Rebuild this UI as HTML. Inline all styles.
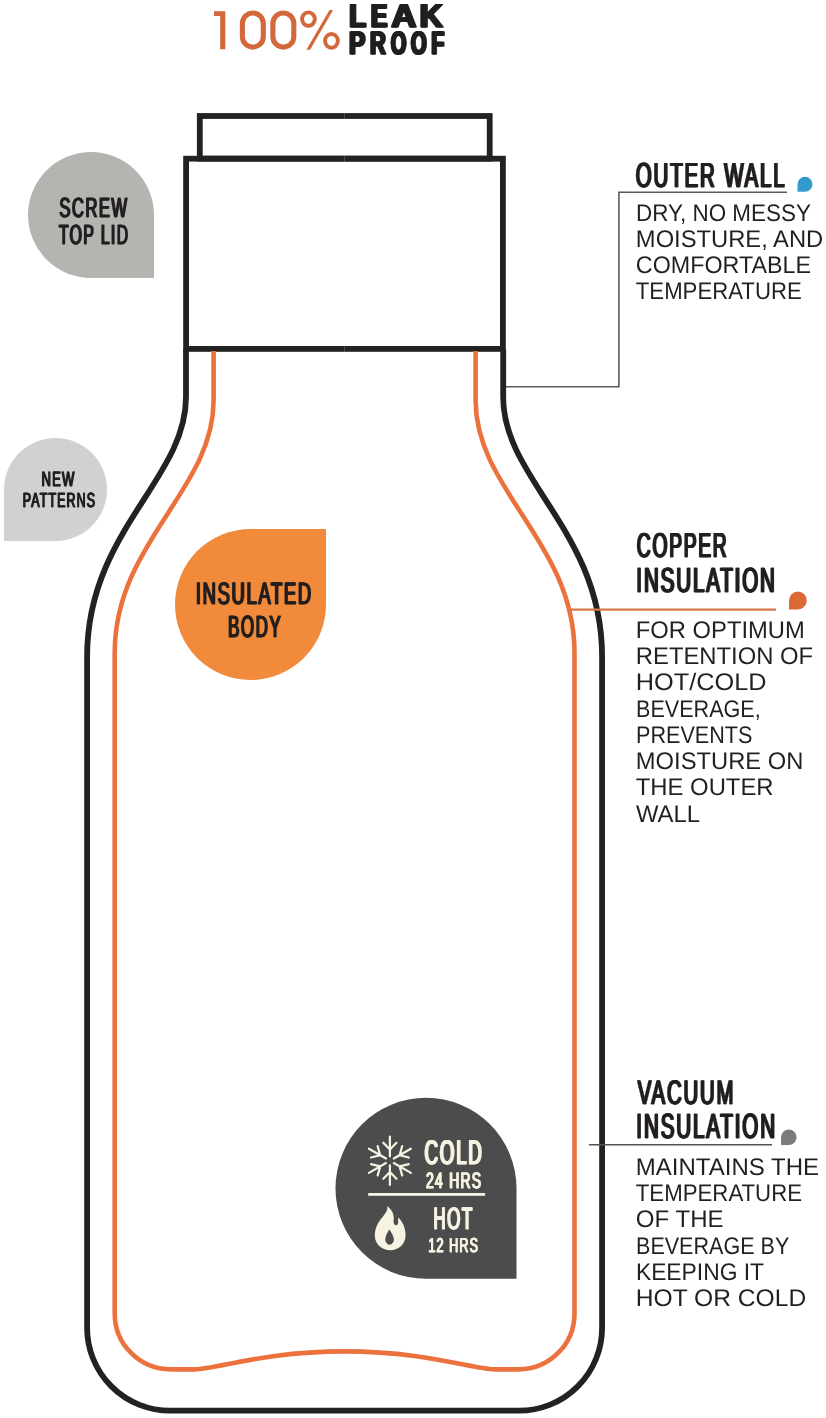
<!DOCTYPE html>
<html><head><meta charset="utf-8"><title>Insulated Bottle</title>
<style>
html,body{margin:0;padding:0;background:#fff;}
body{width:826px;height:1418px;overflow:hidden;font-family:"Liberation Sans",sans-serif;}
svg{display:block;font-family:"Liberation Sans",sans-serif;will-change:transform;text-rendering:geometricPrecision;}
</style></head>
<body>
<svg width="826" height="1418" viewBox="0 0 826 1418">
<path d="M28.00,215.00 A63.00,63.00 0 0 1 91.00,152.00 A63.00,63.00 0 0 1 154.00,215.00 L154.00,278.00 L91.00,278.00 A63.00,63.00 0 0 1 28.00,215.00 Z" fill="#b4b4b0"/>
<path d="M4.00,489.50 A51.50,51.50 0 0 1 55.50,438.00 A51.50,51.50 0 0 1 107.00,489.50 A51.50,51.50 0 0 1 55.50,541.00 L4.00,541.00 Z" fill="#d1d1d3"/>
<path d="M175.00,604.50 A75.50,75.50 0 0 1 250.50,529.00 L326.00,529.00 L326.00,604.50 A75.50,75.50 0 0 1 250.50,680.00 A75.50,75.50 0 0 1 175.00,604.50 Z" fill="#f18a3a"/>
<path d="M335.50,1188.30 A90.50,90.50 0 0 1 426.00,1097.80 A90.50,90.50 0 0 1 516.50,1188.30 L516.50,1278.80 L426.00,1278.80 A90.50,90.50 0 0 1 335.50,1188.30 Z" fill="#4c4c4c"/>
<path d="M797.50,184.30 A7.50,7.50 0 0 1 805.00,176.80 A7.50,7.50 0 0 1 812.50,184.30 A7.50,7.50 0 0 1 805.00,191.80 L797.50,191.80 Z" fill="#339acc"/>
<path d="M789.00,600.50 A8.90,8.90 0 0 1 797.90,591.60 A8.90,8.90 0 0 1 806.80,600.50 A8.90,8.90 0 0 1 797.90,609.40 L789.00,609.40 Z" fill="#da6936"/>
<path d="M781.00,1137.20 A7.80,7.80 0 0 1 788.80,1129.40 A7.80,7.80 0 0 1 796.60,1137.20 A7.80,7.80 0 0 1 788.80,1145.00 L781.00,1145.00 Z" fill="#7c7c7c"/>
<path d="M505.7,386.8 H618.9 V192.3 H787" fill="none" stroke="#5a5a5a" stroke-width="1.6"/>
<rect x="199.80" y="116.00" width="289.90" height="42.60" fill="none" stroke="#222222" stroke-width="5.8"/>
<rect x="186.10" y="158.70" width="316.80" height="190.20" fill="none" stroke="#222222" stroke-width="5.8"/>
<path d="M186.0,349 L186.0,397.3 C186.0,479.5 87.1,531.5 87.1,656.6 L87.1,1327.7 A83,83 0 0 0 170.1,1410.7 L519.1,1410.7 A83,83 0 0 0 602.1,1327.7 L602.1,656.6 C602.1,531.5 503.20000000000005,479.5 503.20000000000005,397.3 L503.20000000000005,349" fill="none" stroke="#222222" stroke-width="5.8"/>
<path d="M213.6,351 L213.6,400.6 C213.6,490.4 114.7,542.5 114.7,652.9 L114.7,1313.4 A56,56 0 0 0 170.7,1369.4 L195,1369.4 C216.2,1369.4 263.4,1351.4 344.6,1351.4 C425.8,1351.4 473.0,1369.4 494.2,1369.4 L518.5,1369.4 A56,56 0 0 0 574.5,1313.4 L574.5,652.9 C574.5,542.5 475.6,490.4 475.6,400.6 L475.6,351" fill="none" stroke="#eb713d" stroke-width="4.6"/>
<path d="M571,609.6 H776" fill="none" stroke="#d6764a" stroke-width="2.2"/>
<path d="M344.4,112 V120 M344.4,155 V162.5 M344.4,345 V352.5" stroke="#ffffff" stroke-opacity="0.3" stroke-width="0.7"/>
<path d="M589,1144.7 H772" fill="none" stroke="#555555" stroke-width="1.5"/>
<path d="M214,11.2 H225.3 V49.2 H220.2 V15.9 H214 Z" fill="#d3683a"/>
<rect x="242.4" y="13.0" width="20.9" height="34.1" rx="10.45" ry="10.45" fill="none" stroke="#d3683a" stroke-width="5.1"/>
<rect x="272.9" y="13.0" width="20.9" height="34.1" rx="10.45" ry="10.45" fill="none" stroke="#d3683a" stroke-width="5.1"/>
<ellipse cx="308.45" cy="19.05" rx="6.4" ry="6.7" fill="none" stroke="#d3683a" stroke-width="3.9"/>
<ellipse cx="331.45" cy="40.85" rx="6.4" ry="6.9" fill="none" stroke="#d3683a" stroke-width="3.9"/>
<path d="M329.5,10.1 H333.1 L310.1,49.8 H306.4 Z" fill="#d3683a"/>
<text x="348.29" y="27.05" font-size="32.56" font-weight="bold" fill="#1f1f1f" stroke="#1f1f1f" stroke-width="1.1" stroke-linejoin="round" textLength="17.02" lengthAdjust="spacingAndGlyphs">L</text><text x="349.19" y="27.05" font-size="32.56" font-weight="bold" fill="#1f1f1f" stroke="#1f1f1f" stroke-width="1.1" stroke-linejoin="round" textLength="17.02" lengthAdjust="spacingAndGlyphs">L</text><text x="350.09" y="27.05" font-size="32.56" font-weight="bold" fill="#1f1f1f" stroke="#1f1f1f" stroke-width="1.1" stroke-linejoin="round" textLength="17.02" lengthAdjust="spacingAndGlyphs">L</text>
<text x="370.12" y="27.05" font-size="32.56" font-weight="bold" fill="#1f1f1f" stroke="#1f1f1f" stroke-width="1.1" stroke-linejoin="round" textLength="16.29" lengthAdjust="spacingAndGlyphs">E</text><text x="371.02" y="27.05" font-size="32.56" font-weight="bold" fill="#1f1f1f" stroke="#1f1f1f" stroke-width="1.1" stroke-linejoin="round" textLength="16.29" lengthAdjust="spacingAndGlyphs">E</text><text x="371.92" y="27.05" font-size="32.56" font-weight="bold" fill="#1f1f1f" stroke="#1f1f1f" stroke-width="1.1" stroke-linejoin="round" textLength="16.29" lengthAdjust="spacingAndGlyphs">E</text>
<text x="390.59" y="27.05" font-size="32.56" font-weight="bold" fill="#1f1f1f" stroke="#1f1f1f" stroke-width="1.1" stroke-linejoin="round" textLength="24.97" lengthAdjust="spacingAndGlyphs">A</text><text x="391.49" y="27.05" font-size="32.56" font-weight="bold" fill="#1f1f1f" stroke="#1f1f1f" stroke-width="1.1" stroke-linejoin="round" textLength="24.97" lengthAdjust="spacingAndGlyphs">A</text><text x="392.39" y="27.05" font-size="32.56" font-weight="bold" fill="#1f1f1f" stroke="#1f1f1f" stroke-width="1.1" stroke-linejoin="round" textLength="24.97" lengthAdjust="spacingAndGlyphs">A</text>
<text x="418.71" y="27.05" font-size="32.56" font-weight="bold" fill="#1f1f1f" stroke="#1f1f1f" stroke-width="1.1" stroke-linejoin="round" textLength="23.14" lengthAdjust="spacingAndGlyphs">K</text><text x="419.61" y="27.05" font-size="32.56" font-weight="bold" fill="#1f1f1f" stroke="#1f1f1f" stroke-width="1.1" stroke-linejoin="round" textLength="23.14" lengthAdjust="spacingAndGlyphs">K</text><text x="420.51" y="27.05" font-size="32.56" font-weight="bold" fill="#1f1f1f" stroke="#1f1f1f" stroke-width="1.1" stroke-linejoin="round" textLength="23.14" lengthAdjust="spacingAndGlyphs">K</text>
<text x="348.23" y="54.25" font-size="32.12" font-weight="bold" fill="#1f1f1f" stroke="#1f1f1f" stroke-width="1.1" stroke-linejoin="round" textLength="16.15" lengthAdjust="spacingAndGlyphs">P</text><text x="349.13" y="54.25" font-size="32.12" font-weight="bold" fill="#1f1f1f" stroke="#1f1f1f" stroke-width="1.1" stroke-linejoin="round" textLength="16.15" lengthAdjust="spacingAndGlyphs">P</text><text x="350.03" y="54.25" font-size="32.12" font-weight="bold" fill="#1f1f1f" stroke="#1f1f1f" stroke-width="1.1" stroke-linejoin="round" textLength="16.15" lengthAdjust="spacingAndGlyphs">P</text>
<text x="369.31" y="54.25" font-size="32.12" font-weight="bold" fill="#1f1f1f" stroke="#1f1f1f" stroke-width="1.1" stroke-linejoin="round" textLength="15.59" lengthAdjust="spacingAndGlyphs">R</text><text x="370.21" y="54.25" font-size="32.12" font-weight="bold" fill="#1f1f1f" stroke="#1f1f1f" stroke-width="1.1" stroke-linejoin="round" textLength="15.59" lengthAdjust="spacingAndGlyphs">R</text><text x="371.11" y="54.25" font-size="32.12" font-weight="bold" fill="#1f1f1f" stroke="#1f1f1f" stroke-width="1.1" stroke-linejoin="round" textLength="15.59" lengthAdjust="spacingAndGlyphs">R</text>
<text x="389.94" y="54.25" font-size="32.12" font-weight="bold" fill="#1f1f1f" stroke="#1f1f1f" stroke-width="1.1" stroke-linejoin="round" textLength="15.45" lengthAdjust="spacingAndGlyphs">O</text><text x="390.84" y="54.25" font-size="32.12" font-weight="bold" fill="#1f1f1f" stroke="#1f1f1f" stroke-width="1.1" stroke-linejoin="round" textLength="15.45" lengthAdjust="spacingAndGlyphs">O</text><text x="391.74" y="54.25" font-size="32.12" font-weight="bold" fill="#1f1f1f" stroke="#1f1f1f" stroke-width="1.1" stroke-linejoin="round" textLength="15.45" lengthAdjust="spacingAndGlyphs">O</text>
<text x="409.92" y="54.25" font-size="32.12" font-weight="bold" fill="#1f1f1f" stroke="#1f1f1f" stroke-width="1.1" stroke-linejoin="round" textLength="15.78" lengthAdjust="spacingAndGlyphs">O</text><text x="410.82" y="54.25" font-size="32.12" font-weight="bold" fill="#1f1f1f" stroke="#1f1f1f" stroke-width="1.1" stroke-linejoin="round" textLength="15.78" lengthAdjust="spacingAndGlyphs">O</text><text x="411.72" y="54.25" font-size="32.12" font-weight="bold" fill="#1f1f1f" stroke="#1f1f1f" stroke-width="1.1" stroke-linejoin="round" textLength="15.78" lengthAdjust="spacingAndGlyphs">O</text>
<text x="430.44" y="54.25" font-size="32.12" font-weight="bold" fill="#1f1f1f" stroke="#1f1f1f" stroke-width="1.1" stroke-linejoin="round" textLength="12.88" lengthAdjust="spacingAndGlyphs">F</text><text x="431.34" y="54.25" font-size="32.12" font-weight="bold" fill="#1f1f1f" stroke="#1f1f1f" stroke-width="1.1" stroke-linejoin="round" textLength="12.88" lengthAdjust="spacingAndGlyphs">F</text><text x="432.24" y="54.25" font-size="32.12" font-weight="bold" fill="#1f1f1f" stroke="#1f1f1f" stroke-width="1.1" stroke-linejoin="round" textLength="12.88" lengthAdjust="spacingAndGlyphs">F</text>
<text x="58.76" y="216.98" font-size="27.57" font-weight="normal" fill="#231f20" letter-spacing="2.48" stroke="#231f20" stroke-width="0.43" stroke-linejoin="miter" textLength="69.28" lengthAdjust="spacingAndGlyphs">SCREW</text><text x="59.36" y="216.98" font-size="27.57" font-weight="normal" fill="#231f20" letter-spacing="2.48" stroke="#231f20" stroke-width="0.43" stroke-linejoin="miter" textLength="69.28" lengthAdjust="spacingAndGlyphs">SCREW</text><text x="59.96" y="216.98" font-size="27.57" font-weight="normal" fill="#231f20" letter-spacing="2.48" stroke="#231f20" stroke-width="0.43" stroke-linejoin="miter" textLength="69.28" lengthAdjust="spacingAndGlyphs">SCREW</text>
<text x="58.36" y="244.28" font-size="27.57" font-weight="normal" fill="#231f20" letter-spacing="2.48" stroke="#231f20" stroke-width="0.43" stroke-linejoin="miter" textLength="70.57" lengthAdjust="spacingAndGlyphs">TOP LID</text><text x="58.96" y="244.28" font-size="27.57" font-weight="normal" fill="#231f20" letter-spacing="2.48" stroke="#231f20" stroke-width="0.43" stroke-linejoin="miter" textLength="70.57" lengthAdjust="spacingAndGlyphs">TOP LID</text><text x="59.56" y="244.28" font-size="27.57" font-weight="normal" fill="#231f20" letter-spacing="2.48" stroke="#231f20" stroke-width="0.43" stroke-linejoin="miter" textLength="70.57" lengthAdjust="spacingAndGlyphs">TOP LID</text>
<text x="41.09" y="486.44" font-size="20.61" font-weight="normal" fill="#231f20" letter-spacing="1.85" stroke="#231f20" stroke-width="0.32" stroke-linejoin="miter" textLength="33.97" lengthAdjust="spacingAndGlyphs">NEW</text><text x="41.54" y="486.44" font-size="20.61" font-weight="normal" fill="#231f20" letter-spacing="1.85" stroke="#231f20" stroke-width="0.32" stroke-linejoin="miter" textLength="33.97" lengthAdjust="spacingAndGlyphs">NEW</text><text x="41.99" y="486.44" font-size="20.61" font-weight="normal" fill="#231f20" letter-spacing="1.85" stroke="#231f20" stroke-width="0.32" stroke-linejoin="miter" textLength="33.97" lengthAdjust="spacingAndGlyphs">NEW</text>
<text x="22.37" y="507.34" font-size="20.47" font-weight="normal" fill="#231f20" letter-spacing="1.84" stroke="#231f20" stroke-width="0.32" stroke-linejoin="miter" textLength="73.32" lengthAdjust="spacingAndGlyphs">PATTERNS</text><text x="22.82" y="507.34" font-size="20.47" font-weight="normal" fill="#231f20" letter-spacing="1.84" stroke="#231f20" stroke-width="0.32" stroke-linejoin="miter" textLength="73.32" lengthAdjust="spacingAndGlyphs">PATTERNS</text><text x="23.27" y="507.34" font-size="20.47" font-weight="normal" fill="#231f20" letter-spacing="1.84" stroke="#231f20" stroke-width="0.32" stroke-linejoin="miter" textLength="73.32" lengthAdjust="spacingAndGlyphs">PATTERNS</text>
<text x="195.16" y="604.36" font-size="30.84" font-weight="normal" fill="#231f20" letter-spacing="2.78" stroke="#231f20" stroke-width="0.48" stroke-linejoin="miter" textLength="116.97" lengthAdjust="spacingAndGlyphs">INSULATED</text><text x="195.83" y="604.36" font-size="30.84" font-weight="normal" fill="#231f20" letter-spacing="2.78" stroke="#231f20" stroke-width="0.48" stroke-linejoin="miter" textLength="116.97" lengthAdjust="spacingAndGlyphs">INSULATED</text><text x="196.50" y="604.36" font-size="30.84" font-weight="normal" fill="#231f20" letter-spacing="2.78" stroke="#231f20" stroke-width="0.48" stroke-linejoin="miter" textLength="116.97" lengthAdjust="spacingAndGlyphs">INSULATED</text>
<text x="227.45" y="636.96" font-size="30.70" font-weight="normal" fill="#231f20" letter-spacing="2.76" stroke="#231f20" stroke-width="0.48" stroke-linejoin="miter" textLength="54.17" lengthAdjust="spacingAndGlyphs">BODY</text><text x="228.12" y="636.96" font-size="30.70" font-weight="normal" fill="#231f20" letter-spacing="2.76" stroke="#231f20" stroke-width="0.48" stroke-linejoin="miter" textLength="54.17" lengthAdjust="spacingAndGlyphs">BODY</text><text x="228.79" y="636.96" font-size="30.70" font-weight="normal" fill="#231f20" letter-spacing="2.76" stroke="#231f20" stroke-width="0.48" stroke-linejoin="miter" textLength="54.17" lengthAdjust="spacingAndGlyphs">BODY</text>
<text x="423.81" y="1164.33" font-size="33.97" font-weight="normal" fill="#f6f3e2" letter-spacing="3.06" stroke="#f6f3e2" stroke-width="0.53" stroke-linejoin="miter" textLength="59.04" lengthAdjust="spacingAndGlyphs">COLD</text><text x="424.55" y="1164.33" font-size="33.97" font-weight="normal" fill="#f6f3e2" letter-spacing="3.06" stroke="#f6f3e2" stroke-width="0.53" stroke-linejoin="miter" textLength="59.04" lengthAdjust="spacingAndGlyphs">COLD</text><text x="425.29" y="1164.33" font-size="33.97" font-weight="normal" fill="#f6f3e2" letter-spacing="3.06" stroke="#f6f3e2" stroke-width="0.53" stroke-linejoin="miter" textLength="59.04" lengthAdjust="spacingAndGlyphs">COLD</text>
<text x="425.57" y="1188.33" font-size="22.31" font-weight="normal" fill="#f6f3e2" letter-spacing="2.01" stroke="#f6f3e2" stroke-width="0.35" stroke-linejoin="miter" textLength="56.37" lengthAdjust="spacingAndGlyphs">24 HRS</text><text x="426.06" y="1188.33" font-size="22.31" font-weight="normal" fill="#f6f3e2" letter-spacing="2.01" stroke="#f6f3e2" stroke-width="0.35" stroke-linejoin="miter" textLength="56.37" lengthAdjust="spacingAndGlyphs">24 HRS</text><text x="426.55" y="1188.33" font-size="22.31" font-weight="normal" fill="#f6f3e2" letter-spacing="2.01" stroke="#f6f3e2" stroke-width="0.35" stroke-linejoin="miter" textLength="56.37" lengthAdjust="spacingAndGlyphs">24 HRS</text>
<text x="432.75" y="1229.36" font-size="30.84" font-weight="normal" fill="#f6f3e2" letter-spacing="2.78" stroke="#f6f3e2" stroke-width="0.48" stroke-linejoin="miter" textLength="40.39" lengthAdjust="spacingAndGlyphs">HOT</text><text x="433.42" y="1229.36" font-size="30.84" font-weight="normal" fill="#f6f3e2" letter-spacing="2.78" stroke="#f6f3e2" stroke-width="0.48" stroke-linejoin="miter" textLength="40.39" lengthAdjust="spacingAndGlyphs">HOT</text><text x="434.09" y="1229.36" font-size="30.84" font-weight="normal" fill="#f6f3e2" letter-spacing="2.78" stroke="#f6f3e2" stroke-width="0.48" stroke-linejoin="miter" textLength="40.39" lengthAdjust="spacingAndGlyphs">HOT</text>
<text x="427.90" y="1252.25" font-size="20.04" font-weight="normal" fill="#f6f3e2" letter-spacing="1.80" stroke="#f6f3e2" stroke-width="0.31" stroke-linejoin="miter" textLength="50.77" lengthAdjust="spacingAndGlyphs">12 HRS</text><text x="428.34" y="1252.25" font-size="20.04" font-weight="normal" fill="#f6f3e2" letter-spacing="1.80" stroke="#f6f3e2" stroke-width="0.31" stroke-linejoin="miter" textLength="50.77" lengthAdjust="spacingAndGlyphs">12 HRS</text><text x="428.78" y="1252.25" font-size="20.04" font-weight="normal" fill="#f6f3e2" letter-spacing="1.80" stroke="#f6f3e2" stroke-width="0.31" stroke-linejoin="miter" textLength="50.77" lengthAdjust="spacingAndGlyphs">12 HRS</text>
<rect x="368.2" y="1193" width="116.9" height="2.8" fill="#f6f3e2"/>
<path d="M389.90,1156.30 L389.90,1136.60 M389.90,1149.60 L396.50,1142.80 M389.90,1149.60 L383.30,1142.80 M386.00,1158.55 L368.94,1148.70 M380.20,1155.20 L377.61,1146.08 M380.20,1155.20 L371.01,1157.52 M386.00,1163.05 L368.94,1172.90 M380.20,1166.40 L371.01,1164.08 M380.20,1166.40 L377.61,1175.52 M389.90,1165.30 L389.90,1185.00 M389.90,1172.00 L383.30,1178.80 M389.90,1172.00 L396.50,1178.80 M393.80,1163.05 L410.86,1172.90 M399.60,1166.40 L402.19,1175.52 M399.60,1166.40 L408.79,1164.08 M393.80,1158.55 L410.86,1148.70 M399.60,1155.20 L408.79,1157.52 M399.60,1155.20 L402.19,1146.08" stroke="#f6f3e2" stroke-width="2.2" stroke-linecap="round" fill="none"/>
<path d="M387,1206.1 C390.5,1208.5 393.2,1212 393.7,1216.5 C393.9,1218.5 393.6,1220 393.6,1221.5 C393.6,1224 394.8,1225.3 395.9,1225.3 C397.3,1225.3 398.2,1224 398.2,1222 C398.2,1220.5 398,1219 398.3,1217.6 C402.5,1221.5 405.6,1228 405.6,1235.6 C405.6,1244 398.8,1250.3 390.3,1250.3 C381.6,1250.3 374.8,1243.8 374.8,1235.6 C374.8,1228 378.5,1221.5 383,1216.5 C386,1213 388.2,1210 387,1206.1 Z M389.3,1229.5 C387.5,1232.5 385.3,1236 385.3,1239.6 C385.3,1242.4 387.3,1244.7 389.6,1244.7 C392,1244.7 393.9,1242.4 393.9,1239.6 C393.9,1236 391.2,1232.5 389.3,1229.5 Z" fill="#f6f3e2" fill-rule="evenodd"/>
<text x="635.10" y="186.54" font-size="34.55" font-weight="normal" fill="#231f20" letter-spacing="3.11" stroke="#231f20" stroke-width="0.53" stroke-linejoin="miter" textLength="150.64" lengthAdjust="spacingAndGlyphs">OUTER WALL</text><text x="635.85" y="186.54" font-size="34.55" font-weight="normal" fill="#231f20" letter-spacing="3.11" stroke="#231f20" stroke-width="0.53" stroke-linejoin="miter" textLength="150.64" lengthAdjust="spacingAndGlyphs">OUTER WALL</text><text x="636.60" y="186.54" font-size="34.55" font-weight="normal" fill="#231f20" letter-spacing="3.11" stroke="#231f20" stroke-width="0.53" stroke-linejoin="miter" textLength="150.64" lengthAdjust="spacingAndGlyphs">OUTER WALL</text>
<text x="635.99" y="220.70" font-size="23.98" font-weight="normal" fill="#231f20" textLength="174.89" lengthAdjust="spacingAndGlyphs">DRY, NO MESSY</text>
<text x="635.87" y="246.93" font-size="23.98" font-weight="normal" fill="#231f20" textLength="187.36" lengthAdjust="spacingAndGlyphs">MOISTURE, AND</text>
<text x="635.83" y="273.16" font-size="23.98" font-weight="normal" fill="#231f20" textLength="175.16" lengthAdjust="spacingAndGlyphs">COMFORTABLE</text>
<text x="635.81" y="299.39" font-size="23.98" font-weight="normal" fill="#231f20" textLength="165.94" lengthAdjust="spacingAndGlyphs">TEMPERATURE</text>
<text x="636.09" y="556.74" font-size="34.40" font-weight="normal" fill="#231f20" letter-spacing="3.10" stroke="#231f20" stroke-width="0.53" stroke-linejoin="miter" textLength="91.67" lengthAdjust="spacingAndGlyphs">COPPER</text><text x="636.84" y="556.74" font-size="34.40" font-weight="normal" fill="#231f20" letter-spacing="3.10" stroke="#231f20" stroke-width="0.53" stroke-linejoin="miter" textLength="91.67" lengthAdjust="spacingAndGlyphs">COPPER</text><text x="637.59" y="556.74" font-size="34.40" font-weight="normal" fill="#231f20" letter-spacing="3.10" stroke="#231f20" stroke-width="0.53" stroke-linejoin="miter" textLength="91.67" lengthAdjust="spacingAndGlyphs">COPPER</text>
<text x="635.59" y="591.53" font-size="34.83" font-weight="normal" fill="#231f20" letter-spacing="3.13" stroke="#231f20" stroke-width="0.54" stroke-linejoin="miter" textLength="140.41" lengthAdjust="spacingAndGlyphs">INSULATION</text><text x="636.35" y="591.53" font-size="34.83" font-weight="normal" fill="#231f20" letter-spacing="3.13" stroke="#231f20" stroke-width="0.54" stroke-linejoin="miter" textLength="140.41" lengthAdjust="spacingAndGlyphs">INSULATION</text><text x="637.11" y="591.53" font-size="34.83" font-weight="normal" fill="#231f20" letter-spacing="3.13" stroke="#231f20" stroke-width="0.54" stroke-linejoin="miter" textLength="140.41" lengthAdjust="spacingAndGlyphs">INSULATION</text>
<text x="635.85" y="637.80" font-size="23.98" font-weight="normal" fill="#231f20" textLength="168.90" lengthAdjust="spacingAndGlyphs">FOR OPTIMUM</text>
<text x="635.85" y="664.07" font-size="23.98" font-weight="normal" fill="#231f20" textLength="177.31" lengthAdjust="spacingAndGlyphs">RETENTION OF</text>
<text x="635.72" y="690.34" font-size="23.98" font-weight="normal" fill="#231f20" textLength="130.79" lengthAdjust="spacingAndGlyphs">HOT/COLD</text>
<text x="636.03" y="716.61" font-size="23.98" font-weight="normal" fill="#231f20" textLength="124.71" lengthAdjust="spacingAndGlyphs">BEVERAGE,</text>
<text x="636.03" y="742.88" font-size="23.98" font-weight="normal" fill="#231f20" textLength="116.36" lengthAdjust="spacingAndGlyphs">PREVENTS</text>
<text x="635.85" y="769.15" font-size="23.98" font-weight="normal" fill="#231f20" textLength="167.48" lengthAdjust="spacingAndGlyphs">MOISTURE ON</text>
<text x="635.76" y="795.42" font-size="23.98" font-weight="normal" fill="#231f20" textLength="137.84" lengthAdjust="spacingAndGlyphs">THE OUTER</text>
<text x="635.90" y="821.69" font-size="23.98" font-weight="normal" fill="#231f20" textLength="64.08" lengthAdjust="spacingAndGlyphs">WALL</text>
<text x="636.97" y="1103.54" font-size="33.84" font-weight="normal" fill="#231f20" letter-spacing="3.05" stroke="#231f20" stroke-width="0.52" stroke-linejoin="miter" textLength="97.53" lengthAdjust="spacingAndGlyphs">VACUUM</text><text x="637.71" y="1103.54" font-size="33.84" font-weight="normal" fill="#231f20" letter-spacing="3.05" stroke="#231f20" stroke-width="0.52" stroke-linejoin="miter" textLength="97.53" lengthAdjust="spacingAndGlyphs">VACUUM</text><text x="638.45" y="1103.54" font-size="33.84" font-weight="normal" fill="#231f20" letter-spacing="3.05" stroke="#231f20" stroke-width="0.52" stroke-linejoin="miter" textLength="97.53" lengthAdjust="spacingAndGlyphs">VACUUM</text>
<text x="635.59" y="1138.33" font-size="34.97" font-weight="normal" fill="#231f20" letter-spacing="3.15" stroke="#231f20" stroke-width="0.54" stroke-linejoin="miter" textLength="140.62" lengthAdjust="spacingAndGlyphs">INSULATION</text><text x="636.35" y="1138.33" font-size="34.97" font-weight="normal" fill="#231f20" letter-spacing="3.15" stroke="#231f20" stroke-width="0.54" stroke-linejoin="miter" textLength="140.62" lengthAdjust="spacingAndGlyphs">INSULATION</text><text x="637.11" y="1138.33" font-size="34.97" font-weight="normal" fill="#231f20" letter-spacing="3.15" stroke="#231f20" stroke-width="0.54" stroke-linejoin="miter" textLength="140.62" lengthAdjust="spacingAndGlyphs">INSULATION</text>
<text x="635.85" y="1174.60" font-size="23.98" font-weight="normal" fill="#231f20" textLength="183.16" lengthAdjust="spacingAndGlyphs">MAINTAINS THE</text>
<text x="635.81" y="1200.90" font-size="23.98" font-weight="normal" fill="#231f20" textLength="166.24" lengthAdjust="spacingAndGlyphs">TEMPERATURE</text>
<text x="635.87" y="1227.20" font-size="23.98" font-weight="normal" fill="#231f20" textLength="87.76" lengthAdjust="spacingAndGlyphs">OF THE</text>
<text x="636.03" y="1253.50" font-size="23.98" font-weight="normal" fill="#231f20" textLength="153.24" lengthAdjust="spacingAndGlyphs">BEVERAGE BY</text>
<text x="635.93" y="1279.80" font-size="23.98" font-weight="normal" fill="#231f20" textLength="128.10" lengthAdjust="spacingAndGlyphs">KEEPING IT</text>
<text x="635.79" y="1306.10" font-size="23.98" font-weight="normal" fill="#231f20" textLength="170.39" lengthAdjust="spacingAndGlyphs">HOT OR COLD</text>
</svg>
</body></html>
